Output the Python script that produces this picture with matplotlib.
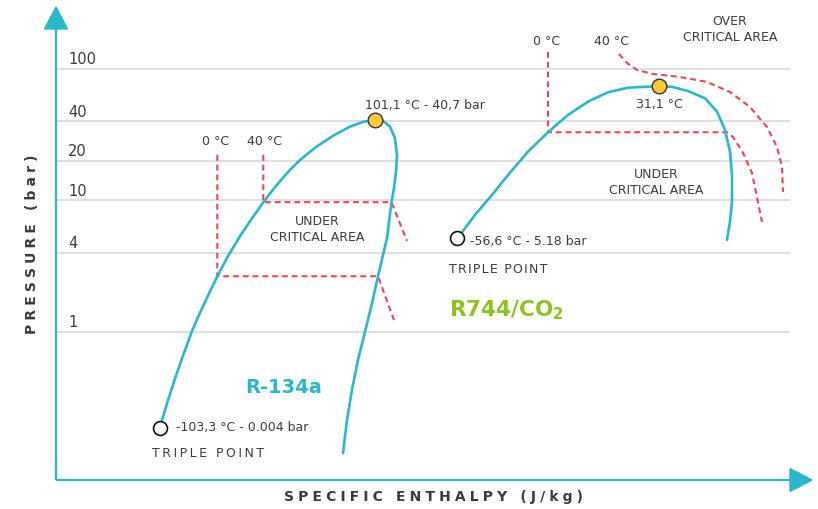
import numpy as np
import matplotlib
matplotlib.use("Agg")
import matplotlib.pyplot as plt
from matplotlib.patches import Polygon

# ---- data (enthalpy in arbitrary units, pressure in bar) ----
pressure_ticks = [1, 4, 10, 20, 40, 100]
tick_labels = ["1", "4", "10", "20", "40", "100"]

# R-134a saturation dome
r134a_liq_h = [104, 105.7, 112.3, 119, 127.3, 135.7, 142.3, 150.7, 161.3, 172.3,
               184, 194, 207.3, 220.7, 234, 244, 260.7, 277.3, 294, 307.3, 319]
r134a_liq_p = [0.004, 0.0059, 0.0206, 0.068, 0.267, 1.0, 1.31, 1.80, 2.65, 3.81,
               5.34, 6.95, 9.7, 13.1, 17.1, 20.3, 25.7, 31.1, 36.4, 39.7, 40.7]
r134a_vap_h = [319, 327, 334, 339, 341, 340, 338, 335.5, 331, 322, 316, 309, 302,
               296, 291, 287]
r134a_vap_p = [40.7, 40.2, 36.4, 29.7, 22.2, 16.6, 12.4, 9.7, 5.16, 2.65, 1.65,
               1.0, 0.20, 0.036, 0.0063, 0.00094]
r134a_crit = (319, 40.7)
r134a_triple = (104, 0.004)

# R-134a isotherms 0 °C and 40 °C
r134a_iso0_h = [161.3, 161.3, 322, 338]
r134a_iso0_p = [22.2, 2.65, 2.65, 1.23]
r134a_iso40_h = [207.3, 207.3, 335.5, 351]
r134a_iso40_p = [22.2, 9.7, 9.7, 4.92]

# R744 / CO2 saturation dome
co2_liq_h = [401, 404, 419, 436, 452, 472, 492, 512, 532, 552, 572, 592, 603]
co2_liq_p = [5.18, 5.47, 7.76, 11.0, 15.6, 23.5, 33.0, 44.7, 56.4, 66.5, 72.1,
             73.3, 73.8]
co2_vap_h = [603, 616, 632, 649, 661, 669, 674, 676, 676, 674, 671]
co2_vap_p = [73.8, 73.2, 68.0, 59.8, 47.4, 34.4, 23.5, 15.6, 9.8, 6.9, 5.01]
co2_crit = (603, 73.8)
co2_triple = (401, 5.18)

# CO2 isotherms: 0 °C (sub-critical) and 40 °C (trans-critical)
co2_iso0_h = [492, 492, 671, 677, 687, 696, 701, 706]
co2_iso0_p = [134.6, 33.0, 33.0, 30.4, 23.0, 16.2, 10.6, 6.86]
co2_iso40_h = [563, 571, 581, 597, 624, 651, 674, 694, 711, 721, 726, 727]
co2_iso40_p = [130, 111, 98.3, 91.6, 86.9, 79.7, 66.8, 51.4, 36.2, 25.5, 18.0, 11.6]

# ---- style ----
TEAL = "#2bb6c9"
RED = "#ec4450"
GREEN = "#8dc21f"
YELLOW = "#fdc93c"
TXT = "#3b3b3b"
GRID = "#d9d9d9"
FONT = "DejaVu Sans"
plt.rcParams["font.family"] = [FONT]
plt.rcParams["mathtext.fontset"] = "dejavusans"

W, H = 818, 509
fig = plt.figure(figsize=(W / 100, H / 100), dpi=100)
ax = fig.add_axes([56 / W, (H - 480) / H, 756 / W, 473 / H])

# log pressure axis, compressed below 1 bar
K = 0.3045


def fwd(p):
    lp = np.log10(np.clip(np.asarray(p, float), 1e-12, None))
    return np.where(lp >= 0, lp, lp * K)


def inv(t):
    t = np.asarray(t, float)
    return np.where(t >= 0, 10.0 ** t, 10.0 ** (t / K))


ax.set_yscale("function", functions=(fwd, inv))
ax.set_xlim(0, 756)
ax.set_ylim(2.0e-4, 296)
ax.axis("off")

# grid lines and pressure labels
ax.hlines(pressure_ticks, 0, 734, color=GRID, lw=1.2, zorder=1)
for p, lab in zip(pressure_ticks, tick_labels):
    ax.annotate(lab, (0, p), xytext=(12, 9), textcoords="offset pixels",
                ha="left", va="center", fontsize=10.5, color=TXT)

# axes with arrow heads
ax.plot([0, 0], [0, 1 - 22 / 473], transform=ax.transAxes, color=TEAL,
        lw=1.6, clip_on=False, solid_capstyle="butt")
ax.plot([0, 1 - 22 / 756], [0, 0], transform=ax.transAxes, color=TEAL,
        lw=1.6, clip_on=False, solid_capstyle="butt")
ax.add_patch(Polygon([(0, 1), (-11.5 / 756, 1 - 22 / 473), (11.5 / 756, 1 - 22 / 473)],
                     closed=True, transform=ax.transAxes, color=TEAL, clip_on=False))
ax.add_patch(Polygon([(1, 0), (1 - 22 / 756, -11.5 / 473), (1 - 22 / 756, 11.5 / 473)],
                     closed=True, transform=ax.transAxes, color=TEAL, clip_on=False))


def spaced(s, sep="\u2009"):
    return sep.join(s)


fig.text(434 / W, 1 - 497 / H, spaced("SPECIFIC ENTHALPY (J/kg)", "\u2009\u200a"),
         ha="center", va="center", fontsize=10, fontweight="bold", color=TXT)
fig.text(32 / W, 1 - 244 / H, spaced("PRESSURE (bar)", "\u2009\u200a"), ha="center",
         va="center", rotation=90, fontsize=10, fontweight="bold", color=TXT)

# saturation domes
for h, p in [(r134a_liq_h, r134a_liq_p), (r134a_vap_h, r134a_vap_p),
             (co2_liq_h, co2_liq_p), (co2_vap_h, co2_vap_p)]:
    ax.plot(h, p, color=TEAL, lw=1.9, zorder=3, solid_capstyle="round",
            solid_joinstyle="round")

# isotherms
for h, p in [(r134a_iso0_h, r134a_iso0_p), (r134a_iso40_h, r134a_iso40_p),
             (co2_iso0_h, co2_iso0_p), (co2_iso40_h, co2_iso40_p)]:
    ax.plot(h, p, color=RED, lw=1.5, dashes=(2.8, 1.9), zorder=2)

# critical and triple points
for h, p in [r134a_crit, co2_crit]:
    ax.plot(h, p, "o", ms=10.5, mfc=YELLOW, mec="#333333", mew=1.0, zorder=5)
for h, p in [r134a_triple, co2_triple]:
    ax.plot(h, p, "o", ms=10, mfc="white", mec="#111111", mew=1.2, zorder=5)


def note(txt, xy, dx, dy, ha="left", size=9, **kw):
    ax.annotate(txt, xy, xytext=(dx, -dy), textcoords="offset pixels", ha=ha,
                va="center", fontsize=size, color=kw.pop("color", TXT), **kw)


note("101,1 °C - 40,7 bar", r134a_crit, 50, -15, ha="center")
note("31,1 °C", co2_crit, 0, 18, ha="center")
note("-103,3 °C - 0.004 bar", r134a_triple, 16, 0)
note(spaced("TRIPLE POINT", "\u200a\u200a"), r134a_triple, -8, 26)
note(spaced("TRIPLE POINT", "\u200a"), co2_triple, -8, 32)
note("-56,6 °C - 5.18 bar", co2_triple, 13, 4)

# isotherm temperature labels
note("0 °C", (r134a_iso0_h[0], r134a_iso0_p[0]), -2, -13, ha="center")
note("40 °C", (r134a_iso40_h[0], r134a_iso40_p[0]), 1, -13, ha="center")
note("0 °C", (co2_iso0_h[0], co2_iso0_p[0]), -1, -10, ha="center")
note("40 °C", (co2_iso40_h[0], co2_iso40_p[0]), -7, -12, ha="center")

# region labels
region_kw = dict(ha="center", va="center", fontsize=9, color=TXT, linespacing=1.3)
ax.text(261, 6.0, "UNDER\nCRITICAL AREA", **region_kw)
ax.text(600, 13.7, "UNDER\nCRITICAL AREA", **region_kw)
ax.text(674, 198, "OVER\nCRITICAL AREA", **region_kw)

# refrigerant names
ax.text(228, 0.040, "R-134a", ha="center", va="center", fontsize=14,
        fontweight="bold", color=TEAL)
ax.text(393, 1.47, r"R744/CO$_{\mathbf{2}}$", ha="left", va="center", fontsize=15.5,
        fontweight="bold", color=GREEN)

fig.savefig("out.png", dpi=100)
